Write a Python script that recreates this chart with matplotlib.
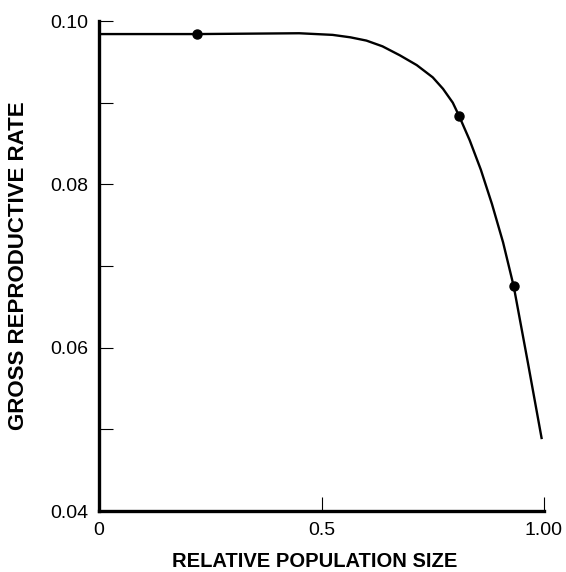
import matplotlib
matplotlib.use("Agg")
import matplotlib.pyplot as plt
from matplotlib.ticker import FixedLocator

# Curve (relative population size vs gross reproductive rate)
curve_x = [0.0, 0.221, 0.45, 0.525, 0.565, 0.601, 0.637, 0.676, 0.714, 0.750,
           0.773, 0.795, 0.809, 0.833, 0.858, 0.883, 0.908, 0.932, 0.964, 0.995]
curve_y = [0.0984, 0.0984, 0.0985, 0.0983, 0.0980, 0.0976, 0.0969, 0.0958,
           0.0946, 0.0931, 0.0917, 0.0900, 0.0884, 0.0854, 0.0818, 0.0776,
           0.0729, 0.0675, 0.0581, 0.0488]

# Observed points (dots)
point_x = [0.221, 0.809, 0.932]
point_y = [0.0984, 0.0884, 0.0675]

x_ticks = [0.0, 0.5, 1.0]
x_tick_labels = ["0", "0.5", "1.00"]
y_ticks = [0.04, 0.06, 0.08, 0.10]
y_tick_labels = ["0.04", "0.06", "0.08", "0.10"]
y_minor_ticks = [0.05, 0.07, 0.09]

x_label = "RELATIVE POPULATION SIZE"
y_label = "GROSS REPRODUCTIVE RATE"

plt.rcParams['font.family'] = ['Liberation Sans', 'DejaVu Sans']

fig = plt.figure(figsize=(5.66, 5.72), dpi=100)
ax = fig.add_axes([99 / 566, 1 - 511 / 572, 445 / 566, 490 / 572])

ax.plot(curve_x, curve_y, color='black', linewidth=1.7, solid_capstyle='butt',
        solid_joinstyle='round')
ax.plot(point_x, point_y, linestyle='none', marker='o', markersize=6.5,
        color='black', clip_on=False)

ax.set_xlim(0, 1.0)
ax.set_ylim(0.04, 0.10)

for side in ('top', 'right'):
    ax.spines[side].set_visible(False)
for side in ('left', 'bottom'):
    ax.spines[side].set_linewidth(2.4)
    ax.spines[side].set_color('black')

ax.set_xticks(x_ticks)
ax.set_xticklabels(x_tick_labels)
ax.set_yticks(y_ticks)
ax.set_yticklabels(y_tick_labels)
ax.yaxis.set_minor_locator(FixedLocator(y_minor_ticks))

ax.tick_params(axis='both', which='both', direction='in', length=10,
               width=0.8, color='black', labelsize=14, pad=8)

ax.set_xlabel(x_label, fontsize=14.5, fontweight='bold')
ax.xaxis.set_label_coords((315 - 99) / 445, (511 - 552) / 490)
ax.set_ylabel(y_label, fontsize=16, fontweight='bold', va='center')
ax.yaxis.set_label_coords((19 - 99) / 445, 0.5)

fig.savefig("out.png", dpi=100)
